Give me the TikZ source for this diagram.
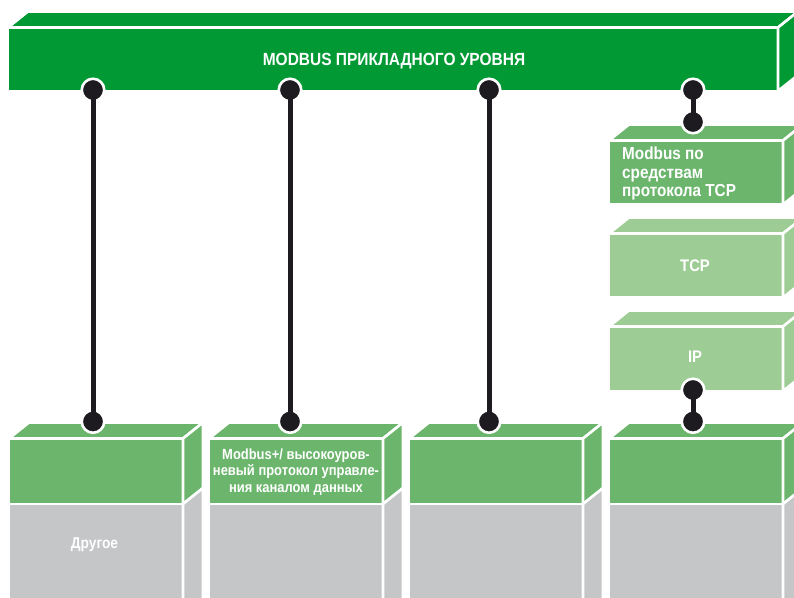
\documentclass[tikz,border=0pt]{standalone}
\usepackage{fontspec}
\setmainfont{Liberation Sans}[FakeStretch=0.88]
\pgfdeclarelayer{back}
\pgfsetlayers{back,main}
\definecolor{dkgreen}{RGB}{0,153,51}
\definecolor{mdgreen}{RGB}{107,181,108}
\definecolor{ltgreen}{RGB}{157,204,148}
\definecolor{stackgray}{RGB}{197,198,200}
\definecolor{pinblack}{RGB}{29,27,32}
\tikzset{
  face/.style={fill=#1,draw=white,line width=2.6pt,line join=round},
  pin/.style={circle,fill=pinblack,draw=white,line width=2.6pt,minimum size=22.5pt,inner sep=0pt},
  wire/.style={draw=pinblack,line width=5pt},
  lbl/.style={text=white,font=\bfseries,inner sep=0pt},
}
% x0, ytop, x1, ybottom, colour
\newcommand\cubeblk[5]{%
  \path[face=#5] (#1,#2) rectangle (#3,#4);
  \path[face=#5] (#1,#2) -- ({#1+20},{#2-16}) -- ({#3+20},{#2-16}) -- (#3,#2) -- cycle;
  \path[face=#5] (#3,#2) -- ({#3+20},{#2-16}) -- ({#3+20},{#4-16}) -- (#3,#4) -- cycle;
}
% lower stack: x0
\newcommand\lowstack[1]{%
  \path[face=mdgreen] (#1,438.5) rectangle ({#1+174},504);
  \path[face=mdgreen] (#1,438.5) -- ({#1+20},422.5) -- ({#1+194},422.5) -- ({#1+174},438.5) -- cycle;
  \path[face=mdgreen] ({#1+174},438.5) -- ({#1+194},422.5) -- ({#1+194},488) -- ({#1+174},504) -- cycle;
  \path[face=stackgray] (#1,504) rectangle ({#1+174},640);
  \path[face=stackgray] ({#1+174},504) -- ({#1+194},488) -- ({#1+194},640) -- ({#1+174},640) -- cycle;
}
\begin{document}
\begin{tikzpicture}[x=1pt,y=-1pt]
\useasboundingbox (0,0) rectangle (794,597);
\clip (0,0) rectangle (794,597);
\begin{pgfonlayer}{back}
  \fill[white] (0,0) rectangle (794,597);
  \cubeblk{8}{27.5}{778}{91}{dkgreen}
  \cubeblk{609}{140.5}{783}{204.5}{mdgreen}
  \cubeblk{609}{233.5}{783}{297.5}{ltgreen}
  \cubeblk{609}{326.5}{783}{391}{ltgreen}
  \lowstack{9}
  \lowstack{209}
  \lowstack{409}
  \lowstack{609}
\end{pgfonlayer}
% texts
\node[lbl,font=\fontsize{17.6}{19}\selectfont\bfseries] (title) at (394,61.5) {MODBUS ПРИКЛАДНОГО УРОВНЯ};
\node[lbl,font=\fontsize{17.4}{18.3}\selectfont\bfseries,align=left,anchor=west] (mtcp) at (622,173.5) {Modbus по\\средствам\\протокола TCP};
\node[lbl,font=\fontsize{16.8}{18}\selectfont\bfseries] (tcp) at (695,265.5) {TCP};
\node[lbl,font=\fontsize{16.8}{18}\selectfont\bfseries] (ip) at (695,356.5) {IP};
\node[lbl,font=\fontsize{14.7}{16.5}\selectfont\bfseries,align=center] (mplus) at (296,472) {Modbus+/ высокоуров-\\невый протокол управле-\\ния каналом данных};
\node[lbl,font=\fontsize{15.6}{17}\selectfont\bfseries] (other) at (94.5,545) {Другое};
% pins
\node[pin] (a1) at (93,90) {};
\node[pin] (a2) at (290,90) {};
\node[pin] (a3) at (489,90) {};
\node[pin] (a4) at (693,90) {};
\node[pin] (b1) at (93,421.5) {};
\node[pin] (b2) at (290,421.5) {};
\node[pin] (b3) at (489,421.5) {};
\node[pin] (b4) at (693,421.5) {};
\node[pin] (m1) at (693,122) {};
\node[pin] (m2) at (693,390) {};
% connectors
\draw[wire] (a1.center) -- (b1.center);
\draw[wire] (a2.center) -- (b2.center);
\draw[wire] (a3.center) -- (b3.center);
\draw[wire] (a4.center) -- (m1.center);
\draw[wire] (m2.center) -- (b4.center);
\end{tikzpicture}
\end{document}
